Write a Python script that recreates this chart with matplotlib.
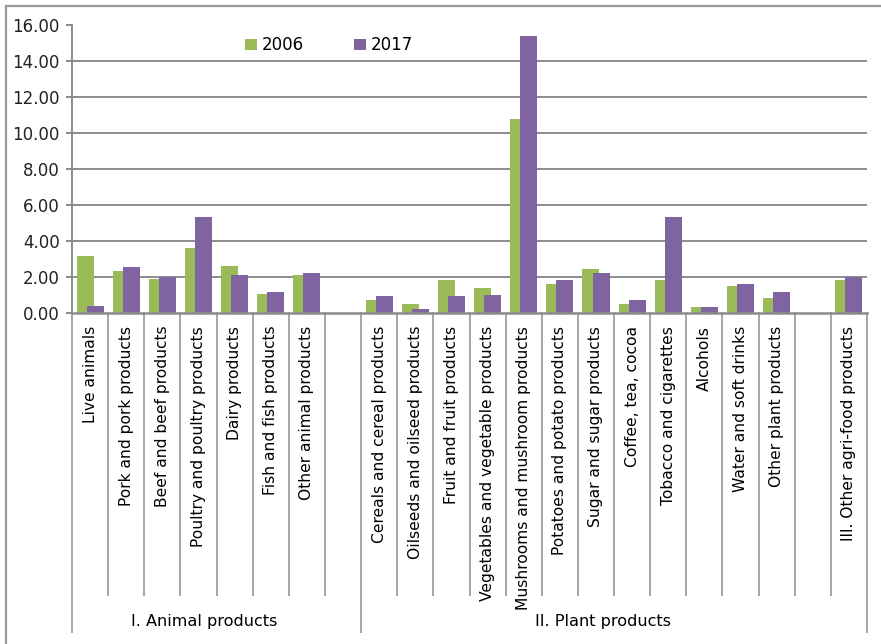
import numpy as np
import matplotlib.pyplot as plt
from matplotlib.lines import Line2D

categories = ["Live animals", "Pork and pork products", "Beef and beef products",
              "Poultry and poultry products", "Dairy products", "Fish and fish products",
              "Other animal products", "",
              "Cereals and cereal products", "Oilseeds and oilseed products",
              "Fruit and fruit products", "Vegetables and vegetable products",
              "Mushrooms and mushroom products", "Potatoes and potato products",
              "Sugar and sugar products", "Coffee, tea, cocoa", "Tobacco and cigarettes",
              "Alcohols", "Water and soft drinks", "Other plant products", "",
              "III. Other agri-food products"]
v2006 = [3.18, 2.35, 1.92, 3.63, 2.63, 1.07, 2.13, np.nan,
         0.74, 0.52, 1.85, 1.41, 10.8, 1.63, 2.46, 0.52, 1.85, 0.35, 1.52, 0.85, np.nan,
         1.85]
v2017 = [0.41, 2.57, 2.02, 5.35, 2.13, 1.16, 2.22, np.nan,
         0.96, 0.22, 0.98, 1.02, 15.4, 1.85, 2.24, 0.74, 5.35, 0.35, 1.63, 1.18, np.nan,
         2.02]
groups = ["I. Animal products", "II. Plant products"]
group_bounds = [-0.5, 7.5, 21.5]

green = "#9bbb59"
purple = "#8064a2"
grid_c = "#8c8c8c"
sep_c = "#a6a6a6"

plt.rcParams["font.family"] = "DejaVu Sans"

fig = plt.figure(figsize=(8.81, 6.44), dpi=100)
ax = fig.add_axes([72 / 881, 1 - 313.3 / 644, 795 / 881, 288 / 644])

x = np.arange(len(categories))
ax.bar(x - 0.14, v2006, width=0.47, color=green, label="2006", zorder=3)
ax.bar(x + 0.14, v2017, width=0.47, color=purple, label="2017", zorder=4)

ax.set_xlim(-0.5, len(categories) - 0.5)
ax.set_ylim(0, 16)
ax.set_yticks(np.arange(0, 17, 2))
ax.set_yticklabels(["%.2f" % t for t in np.arange(0, 17, 2)])
for t in np.arange(2, 16, 2):
    ax.axhline(t, color=grid_c, lw=1.4, zorder=1)

for s in ["top", "right"]:
    ax.spines[s].set_visible(False)
ax.spines["left"].set_color(grid_c)
ax.spines["left"].set_linewidth(1.4)
ax.spines["bottom"].set_color(grid_c)
ax.spines["bottom"].set_linewidth(1.8)
ax.spines["bottom"].set_zorder(5)

ax.tick_params(axis="y", length=4, width=1.4, color=grid_c, pad=5,
               labelsize=12, labelcolor="#222222")
ax.set_xticks(x)
ax.set_xticklabels(categories, rotation=90, fontsize=11.2, va="top")
ax.tick_params(axis="x", length=0, pad=9)

# category separators and group separators
trans = ax.get_xaxis_transform()
for b in np.arange(-0.5, len(categories) + 0.5, 1.0):
    if b in group_bounds:
        ax.plot([b, b], [0, -1.105], color=sep_c, lw=1.4, transform=trans, clip_on=False)
    else:
        ax.plot([b, b], [0, -0.978], color=sep_c, lw=1.4, transform=trans, clip_on=False)

ax.text(3.17, -1.071, groups[0], transform=trans, ha="center", va="center", fontsize=11.6)
ax.text(14.19, -1.071, groups[1], transform=trans, ha="center", va="center", fontsize=11.6)

ax.legend(loc="upper left", bbox_to_anchor=(0.218, 0.962), ncol=2, frameon=False,
          fontsize=12, handlelength=0.7, handleheight=0.7, handletextpad=0.3,
          columnspacing=3.0, borderpad=0, borderaxespad=0)

# chart area border
fig.add_artist(Line2D([5.5 / 881, 5.5 / 881], [-0.1, 1 - 6 / 644], color="#9a9a9a", lw=1.6))
fig.add_artist(Line2D([5.5 / 881, 1.1], [1 - 6 / 644, 1 - 6 / 644], color="#9a9a9a", lw=1.6))

fig.savefig("out.png", dpi=100)
